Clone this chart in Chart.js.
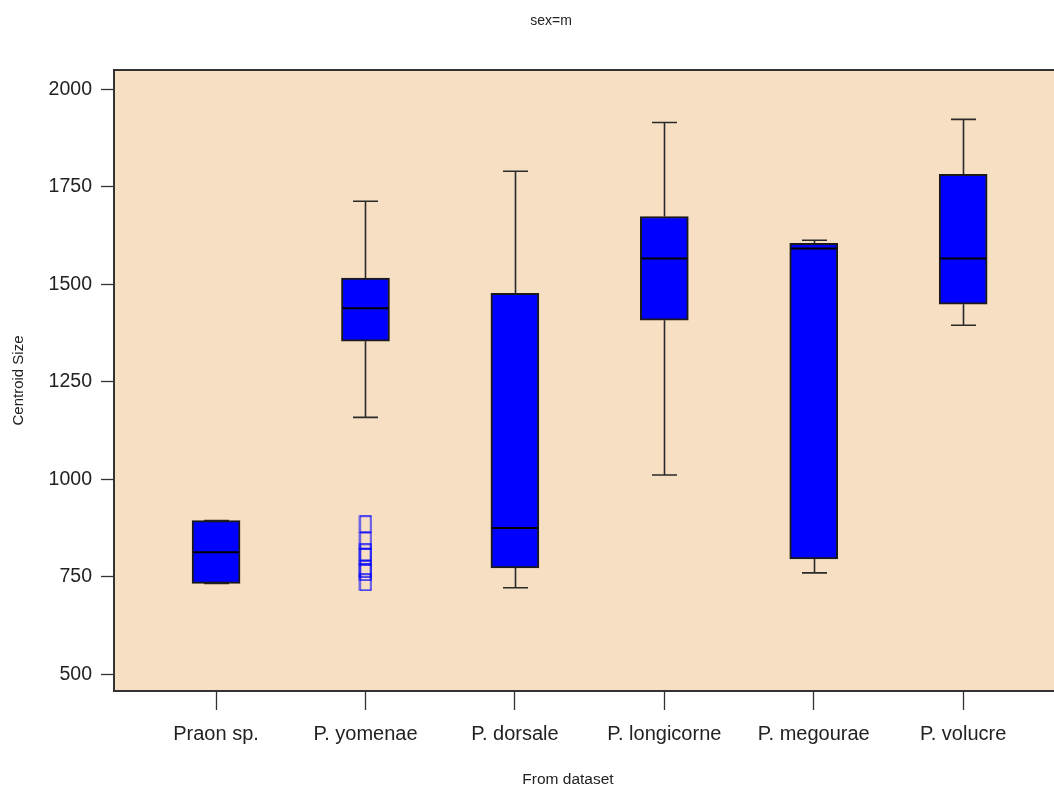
<!DOCTYPE html>
<html>
<head>
<meta charset="utf-8">
<title>sex=m</title>
<script src="https://cdn.jsdelivr.net/npm/chart.js@4/dist/chart.umd.min.js"></script>
<style>
  html, body { margin: 0; padding: 0; background: #ffffff; overflow: hidden; }
  #wrap { width: 1054px; height: 789px; position: relative; }
  #chart { display: block; }
</style>
</head>
<body>
<div id="wrap"><canvas id="chart" width="1054" height="789"></canvas></div>
<script>
// Box plot summary per species (Centroid Size, males)
const categories   = ['Praon sp.', 'P. yomenae', 'P. dorsale', 'P. longicorne', 'P. megourae', 'P. volucre'];
const whiskerLow   = [733, 1159,  722, 1011,  760, 1395];
const lowerQuart   = [733, 1354,  773, 1408,  796, 1449];
const medians      = [813, 1439,  875, 1566, 1592, 1566];
const upperQuart   = [894, 1516, 1477, 1674, 1605, 1782];
const whiskerHigh  = [894, 1713, 1790, 1915, 1613, 1923];

// Outlying observations: group index and value
const outlierGroup = [1, 1, 1, 1, 1, 1, 1];
const outlierValue = [885, 843, 813, 802, 770, 762, 736];

const yTicks = [500, 750, 1000, 1250, 1500, 1750, 2000];

const PANEL_BG = 'rgb(247,223,195)';
const BOX_FILL = '#0000ff';
const INK = '#1a1a1a';
const FAMILY = '"Liberation Sans", Arial, sans-serif';

// Open square marker for outliers
function squareMarker() {
  const c = document.createElement('canvas');
  c.width = 14; c.height = 18;
  const g = c.getContext('2d');
  g.strokeStyle = 'rgba(0,0,255,0.85)';
  g.lineWidth = 1.6;
  g.strokeRect(1.5, 1, 11, 16);
  return c;
}

const panelPlugin = {
  id: 'panel',
  beforeDraw(chart) {
    const { ctx, chartArea: a } = chart;
    ctx.save();
    ctx.fillStyle = PANEL_BG;
    ctx.fillRect(a.left, a.top, a.right - a.left, a.bottom - a.top);
    ctx.restore();
  },
  afterDraw(chart) {
    const { ctx, chartArea: a } = chart;
    ctx.save();
    // top edge of the panel frame
    ctx.strokeStyle = '#333';
    ctx.lineWidth = 2;
    ctx.beginPath();
    ctx.moveTo(a.left, a.top);
    ctx.lineTo(a.right, a.top);
    ctx.stroke();
    ctx.fillStyle = '#222';
    ctx.textAlign = 'center';
    ctx.textBaseline = 'middle';
    // main title
    ctx.font = '14px ' + FAMILY;
    ctx.fillText('sex=m', 551, 21);
    // x-axis title
    ctx.font = '15.5px ' + FAMILY;
    ctx.fillText('From dataset', 568, 780);
    ctx.restore();
  }
};

const whiskerPlugin = {
  id: 'whiskers',
  beforeDatasetsDraw(chart) {
    const { ctx, scales: { x, y } } = chart;
    ctx.save();
    ctx.strokeStyle = '#2a2a2a';
    ctx.lineWidth = 1.6;
    const capHalf = 12.5;
    categories.forEach((c, i) => {
      const px = Math.round(x.getPixelForValue(i)) + 0.5;
      const yLo = y.getPixelForValue(whiskerLow[i]);
      const yQ1 = y.getPixelForValue(lowerQuart[i]);
      const yQ3 = y.getPixelForValue(upperQuart[i]);
      const yHi = y.getPixelForValue(whiskerHigh[i]);
      ctx.beginPath();
      ctx.moveTo(px, yHi); ctx.lineTo(px, yQ3);
      ctx.moveTo(px, yQ1); ctx.lineTo(px, yLo);
      ctx.moveTo(px - capHalf, yHi); ctx.lineTo(px + capHalf, yHi);
      ctx.moveTo(px - capHalf, yLo); ctx.lineTo(px + capHalf, yLo);
      ctx.stroke();
    });
    ctx.restore();
  },
  afterDatasetsDraw(chart) {
    const { ctx, scales: { x, y } } = chart;
    ctx.save();
    ctx.strokeStyle = '#000';
    ctx.lineWidth = 2;
    const half = 23;
    categories.forEach((c, i) => {
      const px = x.getPixelForValue(i);
      const ym = y.getPixelForValue(medians[i]);
      ctx.beginPath();
      ctx.moveTo(px - half, ym); ctx.lineTo(px + half, ym);
      ctx.stroke();
    });
    ctx.restore();
  }
};

new Chart(document.getElementById('chart'), {
  type: 'bar',
  data: {
    datasets: [
      {
        type: 'bar',
        data: categories.map((c, i) => ({ x: i, y: [lowerQuart[i], upperQuart[i]] })),
        backgroundColor: BOX_FILL,
        borderColor: INK,
        borderWidth: 2,
        borderSkipped: false,
        barThickness: 48,
        grouped: false
      },
      {
        type: 'scatter',
        data: outlierValue.map((v, k) => ({ x: outlierGroup[k], y: v })),
        pointStyle: squareMarker(),
        pointRadius: 6
      }
    ]
  },
  options: {
    responsive: false,
    animation: false,
    devicePixelRatio: 1,
    layout: { autoPadding: false, padding: { top: 70, right: 0, left: 0, bottom: 0 } },
    plugins: {
      legend: { display: false },
      title: { display: false },
      tooltip: { enabled: false }
    },
    scales: {
      x: {
        type: 'linear',
        offset: false,
        min: -0.683,
        max: 5.608,
        afterBuildTicks: s => { s.ticks = categories.map((c, i) => ({ value: i })); },
        afterFit: s => { s.height = 98; s.paddingLeft = 0; s.paddingRight = 0; },
        ticks: {
          autoSkip: false,
          maxRotation: 0,
          color: '#222',
          font: { family: FAMILY, size: 20 },
          padding: 12,
          callback: v => categories[v]
        },
        grid: { offset: false, drawOnChartArea: false, drawTicks: true, tickLength: 19, tickColor: '#333', tickWidth: 1.3 },
        border: { display: true, color: '#333', width: 2 },
        title: { display: false }
      },
      y: {
        type: 'linear',
        min: 457.2,
        max: 2049.7,
        afterBuildTicks: s => { s.ticks = yTicks.map(v => ({ value: v })); },
        afterFit: s => { s.width = 114; },
        ticks: { color: '#222', font: { family: FAMILY, size: 19.5 }, padding: 9, callback: v => String(v) },
        grid: { drawOnChartArea: false, drawTicks: true, tickLength: 13, tickColor: '#333', tickWidth: 1.3 },
        border: { display: true, color: '#333', width: 2 },
        title: { display: true, text: 'Centroid Size', color: '#222', font: { family: FAMILY, size: 15 }, padding: { top: 10, bottom: 0 } }
      }
    }
  },
  plugins: [panelPlugin, whiskerPlugin]
});
</script>
</body>
</html>
